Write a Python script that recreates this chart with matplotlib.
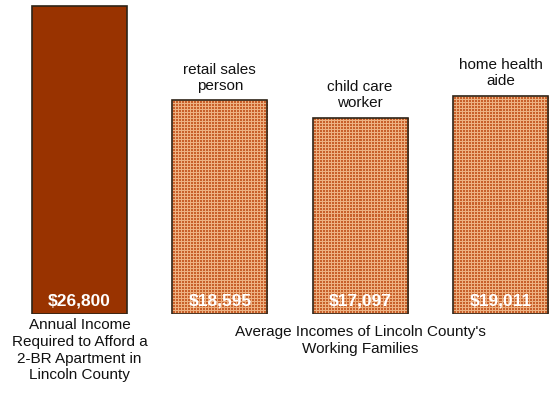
import numpy as np
import matplotlib.pyplot as plt

# values
categories = ["Annual Income\nRequired to Afford a\n2-BR Apartment in\nLincoln County",
              "retail sales\nperson", "child care\nworker", "home health\naide"]
incomes = [26800, 18595, 17097, 19011]
value_labels = ["$26,800", "$18,595", "$17,097", "$19,011"]

narrow = ['Liberation Sans Narrow', 'Liberation Sans', 'DejaVu Sans']
bold = ['Liberation Sans', 'DejaVu Sans']

fig = plt.figure(figsize=(5.58, 4.02), dpi=100)
fig.patch.set_facecolor('white')
# axes spans from the baseline (315 px from top) up to the top edge
ax = fig.add_axes([0, 87 / 402, 1, 315 / 402])
ax.set_facecolor('white')
ax.set_xlim(-79.5 / 140.33, (558 - 79.5) / 140.33)
ax.set_ylim(0, 315 / (308 / 26800))
ax.axis('off')

x = list(range(len(incomes)))
width = 0.677

# first bar: solid dark rust
ax.bar(x[0], incomes[0], width=width, color='#993300', edgecolor='#2e2418', linewidth=1.2, zorder=2)

# other bars: base colour + a fine checkered texture clipped to each bar
bars = ax.bar(x[1:], incomes[1:], width=width, color='#d3773f', edgecolor='#2e2418',
              linewidth=1.2, zorder=3)
bars_fill = ax.bar(x[1:], incomes[1:], width=width, color='#d3773f', linewidth=0, zorder=1)

orange = np.array([200, 96, 42]) / 255
light = np.array([238, 178, 130]) / 255
for b in bars:
    b.set_facecolor('none')
for b in bars_fill:
    x0, y0 = b.get_x(), b.get_y()
    x1, y1 = x0 + b.get_width(), y0 + b.get_height()
    (px0, py0), (px1, py1) = ax.transData.transform([(x0, y0), (x1, y1)])
    w, h = int(round(px1 - px0)), int(round(py1 - py0))
    yy, xx = np.mgrid[0:h, 0:w]
    is_light = ((xx % 3) == 0) | ((yy % 3) == 0)
    tex = np.where(is_light[..., None], light, orange)
    im = ax.imshow(tex, extent=(x0, x1, y0, y1), aspect='auto', interpolation='nearest',
                   zorder=2, origin='lower')
    im.set_clip_path(b)

ax.set_xlim(-79.5 / 140.33, (558 - 79.5) / 140.33)
ax.set_ylim(0, 315 / (308 / 26800))

# white value labels inside each bar
for xi, lab in zip(x, value_labels):
    ax.text(xi, 1250, lab, color='white', ha='center', va='center',
            fontsize=12.5, fontweight='bold', family=bold, zorder=4)

# occupation labels above the bars
for xi, val, cat in zip(x[1:], incomes[1:], categories[1:]):
    ax.text(xi, val + 700, cat, ha='center', va='bottom', fontsize=11,
            family=narrow, linespacing=1.25, color='#111111')

# labels under the axis
ax.text(x[0], -280, categories[0], ha='center', va='top', fontsize=11,
        family=narrow, linespacing=1.25, color='#111111', clip_on=False)
ax.text(2.0, -880, "Average Incomes of Lincoln County's\nWorking Families", ha='center',
        va='top', fontsize=11, family=narrow, linespacing=1.25, color='#111111', clip_on=False)

plt.savefig('out.png', dpi=100, facecolor=fig.get_facecolor())
